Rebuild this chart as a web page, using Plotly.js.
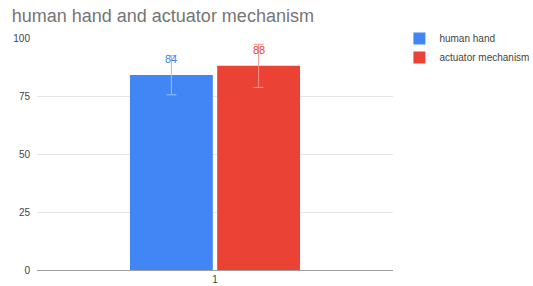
<!DOCTYPE html>
<html><head><meta charset="utf-8">
<script src="https://cdn.plot.ly/plotly-3.0.1.min.js"></script>
<style>html,body{margin:0;padding:0;background:#fff}#c{width:533px;height:286px}</style>
</head><body><div id="c"></div>
<script>
const categories = ['1'];
const seriesNames = ['human hand', 'actuator mechanism'];
const humanHand = [84];
const actuatorMechanism = [88];
const humanHandErr = [8.5];
const actuatorErr = [9.3];
const yTicks = [0, 25, 50, 75, 100];

const colors = ['#4285F4', '#EA4335'];
const errColors = ['#9DBFF9', '#F4958C'];
const bargap = 0.51;

const traces = [
  {type:'bar', name:seriesNames[0], x:categories, y:humanHand,
   marker:{color:colors[0]},
   error_y:{type:'data', array:humanHandErr, visible:true, color:errColors[0], thickness:1, width:5},
   hoverinfo:'none'},
  {type:'bar', name:seriesNames[1], x:categories, y:actuatorMechanism,
   marker:{color:colors[1]},
   error_y:{type:'data', array:actuatorErr, visible:true, color:errColors[1], thickness:1, width:5},
   hoverinfo:'none'}
];

const slot = (1 - bargap) / 2;
const annotations = [humanHand, actuatorMechanism].map((vals, i) => ({
  x: (i === 0 ? -slot/2 : slot/2), y: vals[0], xref:'x', yref:'y',
  text: String(vals[0]), showarrow:false, yshift:16,
  font:{family:'Arial, Liberation Sans, sans-serif', size:11, color:colors[i]}
}));

const layout = {
  width:533, height:286,
  margin:{l:37, r:140, t:38, b:16, autoexpand:false},
  paper_bgcolor:'#fff', plot_bgcolor:'#fff',
  title:{text:'human hand and actuator mechanism', x:0.022, xanchor:'left', y:0.945, yanchor:'middle',
         font:{family:'Arial, Liberation Sans, sans-serif', size:18, color:'#757575'}},
  barmode:'group', bargap:bargap, bargroupgap:0.05,
  xaxis:{type:'category', showgrid:false, showline:true, linecolor:'#9e9e9e', linewidth:1,
         ticks:'', tickfont:{family:'Arial, Liberation Sans, sans-serif', size:10, color:'#444'}, fixedrange:true},
  yaxis:{range:[0,100], tickvals:yTicks, showgrid:true, gridcolor:'#e6e6e6', zeroline:false,
         showline:false, ticks:'', ticklabelstandoff:6,
         tickfont:{family:'Arial, Liberation Sans, sans-serif', size:10, color:'#444'}, fixedrange:true},
  legend:{x:1.018, xanchor:'left', y:1.06, yanchor:'top', bgcolor:'rgba(0,0,0,0)',
          font:{family:'Arial, Liberation Sans, sans-serif', size:10, color:'#444'}, tracegroupgap:0, itemwidth:30},
  annotations:annotations,
  showlegend:true
};
Plotly.newPlot('c', traces, layout, {displayModeBar:false, staticPlot:true});
</script></body></html>
